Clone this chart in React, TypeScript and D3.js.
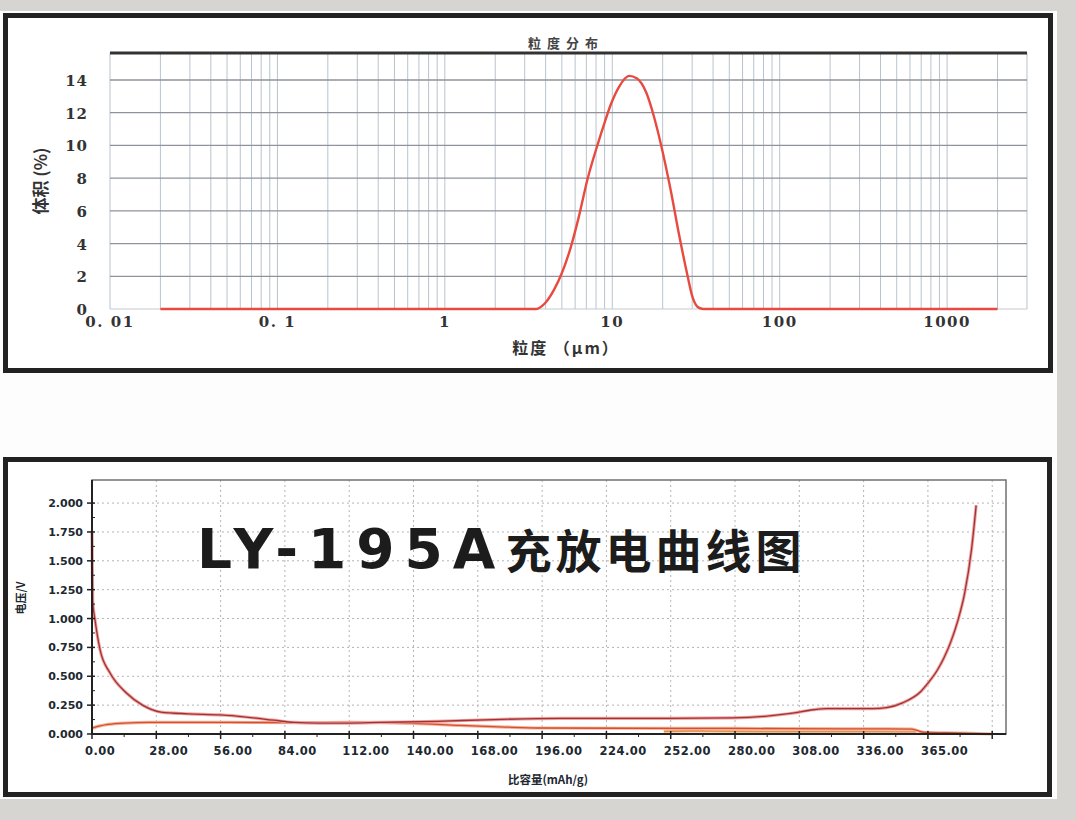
import React, { useRef, useEffect } from "react";
import * as d3 from "d3";

// top chart: 粒度分布 (particle size, µm -> volume %)
const psdSize = [0.02, 3.5, 4.0, 4.5, 5.0, 5.66, 6.3, 7.1, 8.2, 9.0, 9.8, 11, 12.6, 14, 16, 17.7, 20, 22.4, 25, 28.2, 30, 32.6, 35, 2000];
const psdVolume = [0, 0, 0.4, 1.2, 2.2, 3.8, 5.6, 7.9, 10.1, 11.4, 12.5, 13.6, 14.25, 14.1, 13.2, 11.8, 9.6, 7.2, 4.6, 2.0, 0.8, 0.1, 0, 0];
const psdXTicks = [0.01, 0.1, 1, 10, 100, 1000];
const psdXLabels = ["0. 01", "0. 1", "1", "10", "100", "1000"];
const psdYTicks = [0, 2, 4, 6, 8, 10, 12, 14];

// bottom chart: LY-195A 充放电曲线 (capacity mAh/g -> voltage V)
const capTicks = [0, 28, 56, 84, 112, 140, 168, 196, 224, 252, 280, 308, 336, 364, 392];
const capLabels = ["0.00", "28.00", "56.00", "84.00", "112.00", "140.00", "168.00", "196.00", "224.00", "252.00", "280.00", "308.00", "336.00", "365.00", ""];
const voltTicks = [0, 0.25, 0.5, 0.75, 1.0, 1.25, 1.5, 1.75, 2.0];
const voltLabels = ["0.000", "0.250", "0.500", "0.750", "1.000", "1.250", "1.500", "1.750", "2.000"];

const curveACap = [0, 0.3, 1.3, 3.5, 7.8, 15, 22, 30, 42, 56, 67, 79, 88, 99, 112, 125, 150, 175, 204, 250, 279, 294, 305, 314, 320, 340, 346, 353, 361, 364, 368, 371, 374, 377, 380, 383, 385];
const curveAVolt = [1.76, 1.15, 0.99, 0.73, 0.53, 0.355, 0.25, 0.19, 0.175, 0.165, 0.147, 0.12, 0.1, 0.095, 0.095, 0.1, 0.11, 0.125, 0.135, 0.135, 0.14, 0.155, 0.18, 0.21, 0.22, 0.22, 0.228, 0.27, 0.37, 0.44, 0.55, 0.66, 0.8, 0.98, 1.22, 1.6, 1.98];
const curveBCap = [0, 3, 7, 14, 25, 60, 90, 112, 140, 160, 180, 196, 230, 280, 330, 357, 362, 380, 392];
const curveBVolt = [0.05, 0.068, 0.083, 0.095, 0.1, 0.1, 0.098, 0.1, 0.092, 0.075, 0.06, 0.052, 0.05, 0.048, 0.045, 0.042, 0.015, 0.008, 0.0];
const curveCCap = [249, 262, 300, 340, 359];
const curveCVolt = [0.022, 0.026, 0.02, 0.02, 0.018];

const App = () => {
  const svgRef = useRef(null);

  useEffect(() => {
    const svg = d3.select(svgRef.current);
    svg.selectAll("*").remove();

    const cjk = '"Noto Sans CJK SC", sans-serif';
    const serif = '"DejaVu Serif", serif';
    const sans = '"DejaVu Sans", sans-serif';

    // page + white sheet
    svg.append("rect").attr("width", 1076).attr("height", 820).attr("fill", "#d7d5d2");
    svg.append("rect").attr("x", 0).attr("y", 11).attr("width", 1057).attr("height", 788).attr("fill", "#fdfdfd");

    // panel frames
    [
      [5.5, 15.5, 1045, 355],
      [5.5, 459.5, 1044, 335],
    ].forEach(([x, y, w, h]) => {
      svg
        .append("rect")
        .attr("x", x)
        .attr("y", y)
        .attr("width", w)
        .attr("height", h)
        .attr("fill", "#fff")
        .attr("stroke", "#222")
        .attr("stroke-width", 5);
    });

    // ================= top chart =================
    const x1 = d3.scaleLog().domain([0.01, 3000]).range([110, 1027]);
    const y1 = d3.scaleLinear().domain([0, 15.65]).range([309, 53]);
    const g1 = svg.append("g");

    // log grid
    g1.selectAll(".vgrid")
      .data(x1.ticks())
      .join("line")
      .attr("x1", (d) => x1(d))
      .attr("x2", (d) => x1(d))
      .attr("y1", y1(15.65))
      .attr("y2", y1(0))
      .attr("stroke", "#b9c3cd")
      .attr("stroke-width", 1);

    g1.selectAll(".hgrid")
      .data(psdYTicks.slice(1))
      .join("line")
      .attr("x1", x1(0.01))
      .attr("x2", x1(3000))
      .attr("y1", (d) => y1(d))
      .attr("y2", (d) => y1(d))
      .attr("stroke", "#8e939b")
      .attr("stroke-width", 1.3);

    g1.append("line")
      .attr("x1", x1(0.01))
      .attr("x2", x1(3000))
      .attr("y1", y1(0))
      .attr("y2", y1(0))
      .attr("stroke", "#c4cad0");

    // top thick border
    g1.append("line")
      .attr("x1", x1(0.01))
      .attr("x2", x1(3000))
      .attr("y1", y1(15.65))
      .attr("y2", y1(15.65))
      .attr("stroke", "#333")
      .attr("stroke-width", 3);

    g1.append("text")
      .attr("x", 566)
      .attr("y", 48)
      .attr("text-anchor", "middle")
      .style("font-family", cjk)
      .style("font-weight", "bold")
      .style("font-size", "13px")
      .style("letter-spacing", "6px")
      .style("fill", "#444")
      .text("粒度分布");

    const psdLine = d3
      .line()
      .x((d) => x1(d[0]))
      .y((d) => y1(d[1]))
      .curve(d3.curveMonotoneX);

    g1.append("path")
      .datum(psdSize.map((s, i) => [s, psdVolume[i]]))
      .attr("fill", "none")
      .attr("stroke", "#e84a40")
      .attr("stroke-width", 2.4)
      .attr("d", psdLine);

    // y tick labels
    g1.selectAll(".ylab")
      .data(psdYTicks)
      .join("text")
      .attr("x", 88)
      .attr("y", (d) => y1(d) + 6)
      .attr("text-anchor", "end")
      .style("font-family", serif)
      .style("font-weight", "bold")
      .style("font-size", "15px")
      .style("letter-spacing", "1px")
      .style("fill", "#333")
      .text((d) => d);

    // x tick labels
    g1.selectAll(".xlab")
      .data(psdXTicks)
      .join("text")
      .attr("x", (d) => x1(d))
      .attr("y", 327)
      .attr("text-anchor", "middle")
      .style("font-family", serif)
      .style("font-weight", "bold")
      .style("font-size", "15px")
      .style("letter-spacing", "1.5px")
      .style("fill", "#333")
      .text((d, i) => psdXLabels[i]);

    g1.append("text")
      .attr("transform", "translate(47,181) rotate(-90)")
      .attr("text-anchor", "middle")
      .style("font-family", cjk)
      .style("font-weight", "bold")
      .style("font-size", "17px")
      .style("fill", "#333")
      .text("体积 (%)");

    g1.append("text")
      .attr("x", 566)
      .attr("y", 354)
      .attr("text-anchor", "middle")
      .style("font-family", cjk)
      .style("font-weight", "bold")
      .style("font-size", "16px")
      .style("letter-spacing", "2px")
      .style("fill", "#333")
      .text("粒度 （μm）");

    // ================= bottom chart =================
    const x2 = d3.scaleLinear().domain([0, 398]).range([92, 1006]);
    const y2 = d3.scaleLinear().domain([0, 2.2]).range([734, 480]);
    const g2 = svg.append("g");

    // dotted grid
    g2.selectAll(".vg")
      .data(capTicks.slice(1))
      .join("line")
      .attr("x1", (d) => x2(d))
      .attr("x2", (d) => x2(d))
      .attr("y1", y2(2.2))
      .attr("y2", y2(0))
      .attr("stroke", "#b4b4b4")
      .attr("stroke-dasharray", "2,3");

    g2.selectAll(".hg")
      .data(voltTicks.slice(1))
      .join("line")
      .attr("x1", x2(0))
      .attr("x2", x2(398))
      .attr("y1", (d) => y2(d))
      .attr("y2", (d) => y2(d))
      .attr("stroke", "#b4b4b4")
      .attr("stroke-dasharray", "2,3");

    g2.append("rect")
      .attr("x", x2(0))
      .attr("y", y2(2.2))
      .attr("width", x2(398) - x2(0))
      .attr("height", y2(0) - y2(2.2))
      .attr("fill", "none")
      .attr("stroke", "#707070")
      .attr("stroke-width", 1.5);

    // title
    const title = g2
      .append("text")
      .attr("x", 197)
      .attr("y", 568)
      .style("fill", "#1c1c1c")
      .style("font-weight", "bold");
    title
      .append("tspan")
      .style("font-family", sans)
      .style("font-size", "55px")
      .style("letter-spacing", "10px")
      .text("LY-195A");
    title
      .append("tspan")
      .style("font-family", cjk)
      .style("font-size", "46px")
      .style("letter-spacing", "4px")
      .text("充放电曲线图");

    // curves
    const vLine = d3
      .line()
      .x((d) => x2(d[0]))
      .y((d) => y2(d[1]))
      .curve(d3.curveMonotoneX);

    const series = [
      { cap: curveCCap, volt: curveCVolt, under: "#f6c49a", core: "#e09050" },
      { cap: curveBCap, volt: curveBVolt, under: "#f6b09a", core: "#d4502e" },
      { cap: curveACap, volt: curveAVolt, under: "#f4a0a0", core: "#9c3434" },
    ];
    series.forEach((s) => {
      const pts = s.cap.map((c, i) => [c, s.volt[i]]);
      g2.append("path").datum(pts).attr("fill", "none").attr("stroke", s.under).attr("stroke-width", 3.2).attr("d", vLine);
      g2.append("path").datum(pts).attr("fill", "none").attr("stroke", s.core).attr("stroke-width", 1.3).attr("d", vLine);
    });

    // axes
    g2.append("line").attr("x1", x2(0)).attr("x2", x2(0)).attr("y1", y2(2.2)).attr("y2", y2(0)).attr("stroke", "#222").attr("stroke-width", 2);
    g2.append("line").attr("x1", x2(0)).attr("x2", x2(398)).attr("y1", y2(0)).attr("y2", y2(0)).attr("stroke", "#222").attr("stroke-width", 2);

    g2.selectAll(".yt")
      .data(voltTicks)
      .join("line")
      .attr("x1", x2(0) - 5)
      .attr("x2", x2(0) + 3)
      .attr("y1", (d) => y2(d))
      .attr("y2", (d) => y2(d))
      .attr("stroke", "#222")
      .attr("stroke-width", 1.5);
    g2.selectAll(".ymt")
      .data(voltTicks.slice(1).map((d) => d - 0.125))
      .join("line")
      .attr("x1", x2(0))
      .attr("x2", x2(0) + 3)
      .attr("y1", (d) => y2(d))
      .attr("y2", (d) => y2(d))
      .attr("stroke", "#222");

    g2.selectAll(".xt")
      .data(capTicks)
      .join("line")
      .attr("x1", (d) => x2(d))
      .attr("x2", (d) => x2(d))
      .attr("y1", y2(0) - 3)
      .attr("y2", y2(0) + 5)
      .attr("stroke", "#222")
      .attr("stroke-width", 1.5);
    g2.selectAll(".xmt")
      .data(capTicks.slice(1).map((d) => d - 14))
      .join("line")
      .attr("x1", (d) => x2(d))
      .attr("x2", (d) => x2(d))
      .attr("y1", y2(0))
      .attr("y2", y2(0) + 3)
      .attr("stroke", "#222");

    g2.selectAll(".ylab2")
      .data(voltTicks)
      .join("text")
      .attr("x", 83)
      .attr("y", (d) => y2(d) + 4)
      .attr("text-anchor", "end")
      .style("font-family", sans)
      .style("font-weight", "bold")
      .style("font-size", "11px")
      .style("fill", "#1d2830")
      .text((d, i) => voltLabels[i]);

    g2.selectAll(".xlab2")
      .data(capTicks)
      .join("text")
      .attr("x", (d) => x2(d) - 7)
      .attr("y", 755)
      .style("font-family", sans)
      .style("font-weight", "bold")
      .style("font-size", "11.5px")
      .style("letter-spacing", "0.5px")
      .style("fill", "#1d2830")
      .text((d, i) => capLabels[i]);

    g2.append("text")
      .attr("transform", "translate(25,598) rotate(-90)")
      .attr("text-anchor", "middle")
      .style("font-family", cjk)
      .style("font-weight", "bold")
      .style("font-size", "11px")
      .style("fill", "#1d2830")
      .text("电压/V");

    g2.append("text")
      .attr("x", 548)
      .attr("y", 784)
      .attr("text-anchor", "middle")
      .style("font-family", cjk)
      .style("font-weight", "bold")
      .style("font-size", "11.5px")
      .style("fill", "#1d2830")
      .text("比容量(mAh/g)");
  }, []);

  return <svg ref={svgRef} width={1076} height={820} style={{ position: "absolute", left: 0, top: 0 }} />;
};

export default App;
